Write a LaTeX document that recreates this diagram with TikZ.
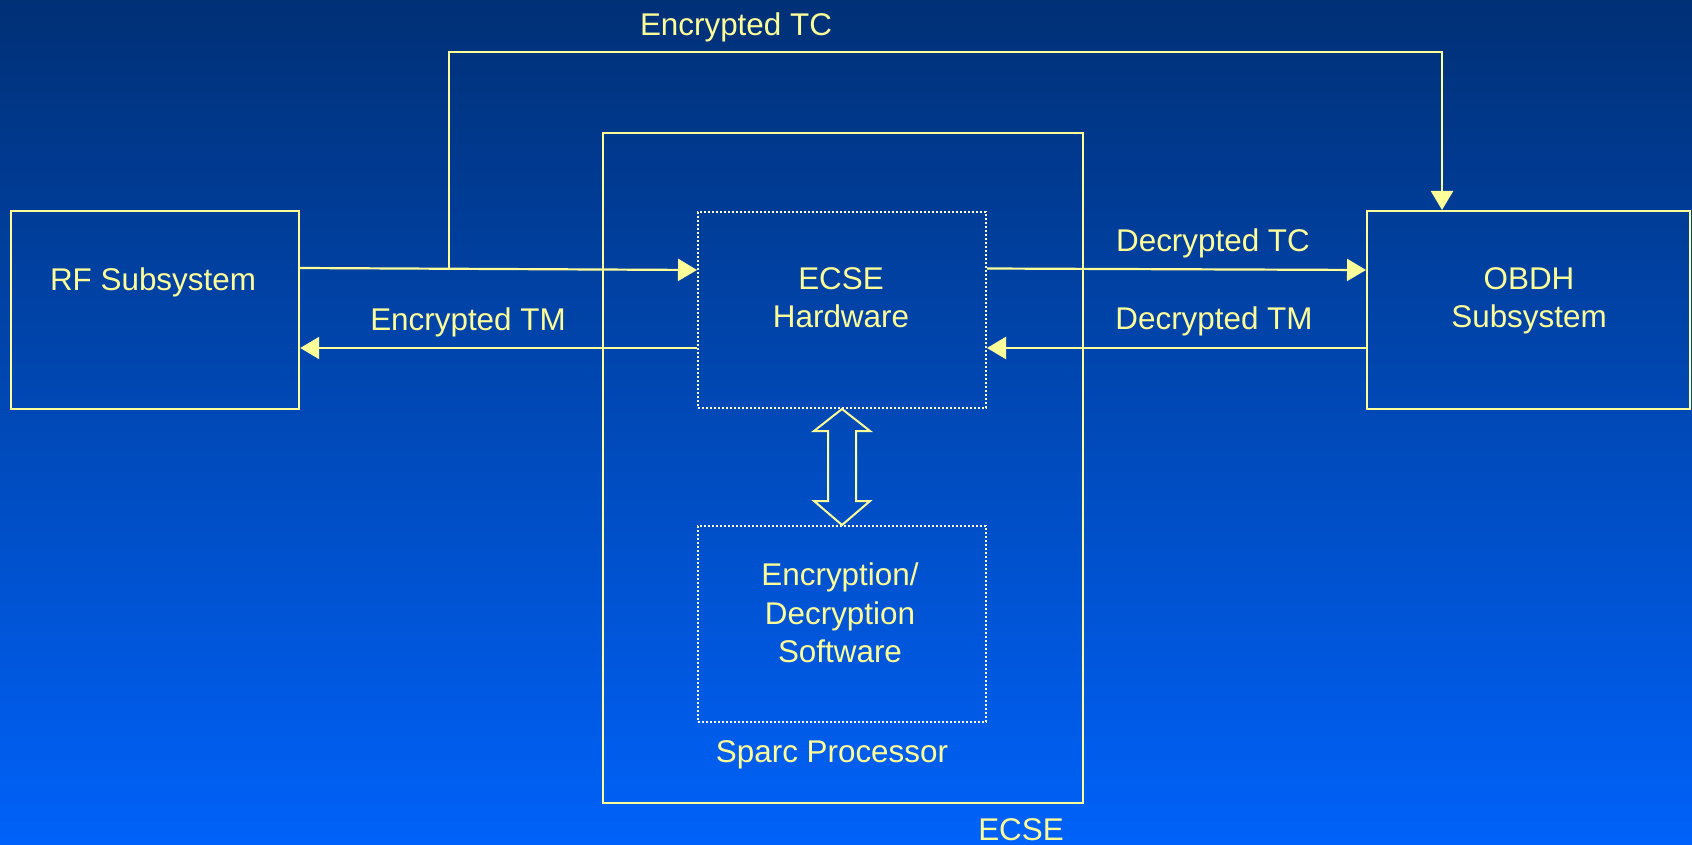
\documentclass[tikz,border=0pt]{standalone}
\usepackage{fontspec}
\setmainfont{Liberation Sans}
\usetikzlibrary{arrows.meta,calc}

\definecolor{bgtop}{RGB}{0,48,118}
\definecolor{bgbot}{RGB}{0,98,250}
\definecolor{ink}{RGB}{255,255,153}
\definecolor{dotink}{RGB}{255,255,200}

\begin{document}
\begin{tikzpicture}[x=1pt,y=-1pt,
  box/.style={draw=ink,line width=2.2pt,rectangle,inner sep=0pt,anchor=north west},
  dotbox/.style={draw=dotink,line width=2pt,dash pattern=on 2pt off 2pt,rectangle,inner sep=0pt,anchor=north west},
  lbl/.style={text=ink,inner sep=0pt,anchor=base,font=\fontsize{31.4}{38.4}\selectfont},
  wire/.style={draw=ink,line width=2.2pt},
  arr/.style={wire,-{Triangle[length=19pt,width=22pt]}},
  lnk/.style={draw=ink,line width=2pt,line join=miter}]

% background
\shade[top color=bgtop,bottom color=bgbot] (0,0) rectangle (1692,845);
\useasboundingbox (0,0) rectangle (1692,845);

% blocks
\node[box,minimum width=288pt,minimum height=198pt] (rf) at (10,210) {};
\node[box,minimum width=323pt,minimum height=198pt] (obdh) at (1366,210) {};
\node[box,minimum width=480pt,minimum height=670pt] (ecse) at (602,132) {};
\node[dotbox,minimum width=288pt,minimum height=196pt] (hw) at (697,211) {};
\node[dotbox,minimum width=288pt,minimum height=196pt] (sw) at (697,525) {};

% block texts
\node[lbl] (rfA) at (153,290) {RF Subsystem};
\node[lbl] (obdhA) at (1529,289.3) {OBDH};
\node[lbl] (obdhB) at (1529,327.7) {Subsystem};
\node[lbl] (hwA) at (841,289.3) {ECSE};
\node[lbl] (hwB) at (841,327.7) {Hardware};
\node[lbl] (swA) at (840,585.3) {Encryption/};
\node[lbl] (swB) at (840,624) {Decryption};
\node[lbl] (swC) at (840,662.7) {Software};
\node[lbl] (sparc) at (832,762.7) {Sparc Processor};
\node[lbl] (ecseL) at (1021,840) {ECSE};

% connector labels
\node[lbl] (etc) at (736,36) {Encrypted TC};
\node[lbl] (etm) at (468,330) {Encrypted TM};
\node[lbl] (dtc) at (1213,251.7) {Decrypted TC};
\node[lbl] (dtm) at (1214,329.3) {Decrypted TM};

% connector junctions
\coordinate (tap) at (449,268.5);
\coordinate (top) at (449,52);
\coordinate (tcin) at ($(obdh.north west)+(76,0)$);

% telecommand path RF -> ECSE hardware, with the bypass to OBDH
\draw[arr] (rf.east |- 0,268) -- (hw.west |- 0,270);
\draw[arr] (tap) -- (top) -| (tcin);
% telemetry ECSE hardware -> RF
\draw[arr] (hw.west |- 0,348) -- (rf.east |- 0,348);
% decrypted paths between ECSE hardware and OBDH
\draw[arr] (hw.east |- 0,268.5) -- (obdh.west |- 0,270);
\draw[arr] (obdh.west |- 0,348) -- (hw.east |- 0,348);

% hardware <-> software link
\draw[lnk] (hw.south) -- ++(28,22) -- ++(-14,0)
  -- ($(sw.north)+(14,-24)$) -- ++(14,0) -- (sw.north)
  -- ++(-28,-24) -- ++(14,0)
  -- ($(hw.south)+(-14,22)$) -- ++(-14,0) -- cycle;
\end{tikzpicture}
\end{document}
